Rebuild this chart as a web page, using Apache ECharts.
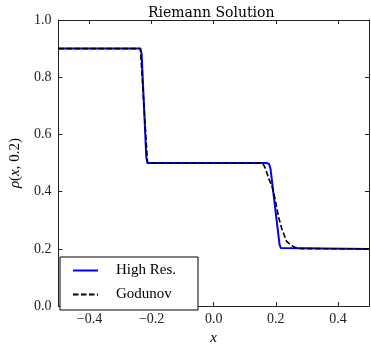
<!DOCTYPE html>
<html>
<head>
<meta charset="utf-8">
<script src="https://cdn.jsdelivr.net/npm/echarts@6/dist/echarts.min.js"></script>
<style>
html, body { margin: 0; padding: 0; background: #fff; }
#main { width: 371px; height: 351px; }
</style>
</head>
<body>
<div id="main"></div>
<script>
// High Res. solution
var hiResX = [-0.5, -0.236, -0.232, -0.217, -0.213, 0.170, 0.178, 0.183, 0.212, 0.216, 0.222, 0.5];
var hiResY = [0.9, 0.9, 0.88, 0.52, 0.5, 0.5, 0.497, 0.48, 0.215, 0.203, 0.2, 0.2];
// Godunov solution
var godX = [-0.5, -0.236, -0.213, 0.150, 0.160, 0.167, 0.177, 0.188, 0.198, 0.204, 0.209, 0.219, 0.235, 0.250, 0.261, 0.280, 0.5];
var godY = [0.9, 0.9, 0.5, 0.5, 0.495, 0.48, 0.446, 0.418, 0.373, 0.339, 0.311, 0.271, 0.226, 0.212, 0.206, 0.201, 0.2];
// tick labels
var xTicks = [-0.4, -0.2, 0.0, 0.2, 0.4];

function pairs(xs, ys) {
    var out = [];
    for (var i = 0; i < xs.length; i++) out.push([xs[i], ys[i]]);
    return out;
}
function fmt(v) {
    return v.toFixed(1).replace('-', '\u2212');
}

var font = 'Liberation Serif';
var axisColor = '#222';

var chart = echarts.init(document.getElementById('main'));
var option = {
    backgroundColor: '#fff',
    animation: false,
    textStyle: { fontFamily: font },
    title: {
        text: 'Riemann Solution',
        left: 143,
        top: 1,
        textStyle: { fontFamily: 'DejaVu Serif', fontSize: 14, fontWeight: 'normal', color: '#000' }
    },
    grid: { left: 53, right: 2, top: 20, bottom: 36 },
    legend: {
        orient: 'vertical',
        left: 60,
        top: 257,
        padding: [6, 22, 8, 12],
        itemGap: 9,
        itemWidth: 25,
        itemHeight: 14,
        borderColor: '#000',
        borderWidth: 1,
        backgroundColor: '#fff',
        itemStyle: { opacity: 0 },
        textStyle: { fontFamily: font, fontSize: 15, color: '#000', padding: [0, 0, 0, 13] },
        data: ['High Res.', 'Godunov']
    },
    xAxis: [{
        type: 'value',
        min: -0.5,
        max: 0.5,
        name: 'x',
        nameLocation: 'middle',
        nameGap: 17,
        nameTextStyle: { fontFamily: font, fontSize: 15, fontStyle: 'italic', color: '#000' },
        axisLine: { show: true, onZero: false, lineStyle: { color: axisColor, width: 1 } },
        axisTick: { show: true, inside: true, length: 4, customValues: xTicks, lineStyle: { color: axisColor } },
        axisLabel: { customValues: xTicks, formatter: fmt, fontFamily: font, fontSize: 14, color: '#222', margin: 6 },
        splitLine: { show: false }
    }, {
        type: 'value',
        position: 'top',
        min: -0.5,
        max: 0.5,
        axisLine: { show: true, onZero: false, lineStyle: { color: axisColor, width: 1 } },
        axisTick: { show: true, inside: true, length: 4, customValues: xTicks, lineStyle: { color: axisColor } },
        axisLabel: { show: false },
        splitLine: { show: false }
    }],
    yAxis: [{
        type: 'value',
        min: 0,
        max: 1,
        interval: 0.2,
        name: '{i|\u03c1}({i|x}, 0.2)',
        nameLocation: 'middle',
        nameGap: 29,
        nameRotate: 90,
        nameTextStyle: {
            fontFamily: font, fontSize: 15, color: '#000',
            rich: { i: { fontFamily: font, fontSize: 15, fontStyle: 'italic', color: '#000' } }
        },
        axisLine: { show: true, onZero: false, lineStyle: { color: axisColor, width: 1 } },
        axisTick: { show: true, inside: true, length: 4, lineStyle: { color: axisColor } },
        axisLabel: { formatter: fmt, fontFamily: font, fontSize: 14, color: '#222', margin: 7 },
        splitLine: { show: false }
    }, {
        type: 'value',
        position: 'right',
        min: 0,
        max: 1,
        interval: 0.2,
        axisLine: { show: true, onZero: false, lineStyle: { color: axisColor, width: 1 } },
        axisTick: { show: true, inside: true, length: 4, lineStyle: { color: axisColor } },
        axisLabel: { show: false },
        splitLine: { show: false }
    }],
    series: [{
        name: 'High Res.',
        type: 'line',
        symbol: 'none',
        smooth: false,
        color: '#0000ff',
        lineStyle: { color: '#0000ff', width: 2 },
        data: pairs(hiResX, hiResY)
    }, {
        name: 'Godunov',
        type: 'line',
        symbol: 'none',
        smooth: false,
        color: '#000',
        lineStyle: { color: '#000', width: 1.6, type: [5.5, 2.5] },
        data: pairs(godX, godY)
    }]
};
chart.setOption(option);
</script>
</body>
</html>
